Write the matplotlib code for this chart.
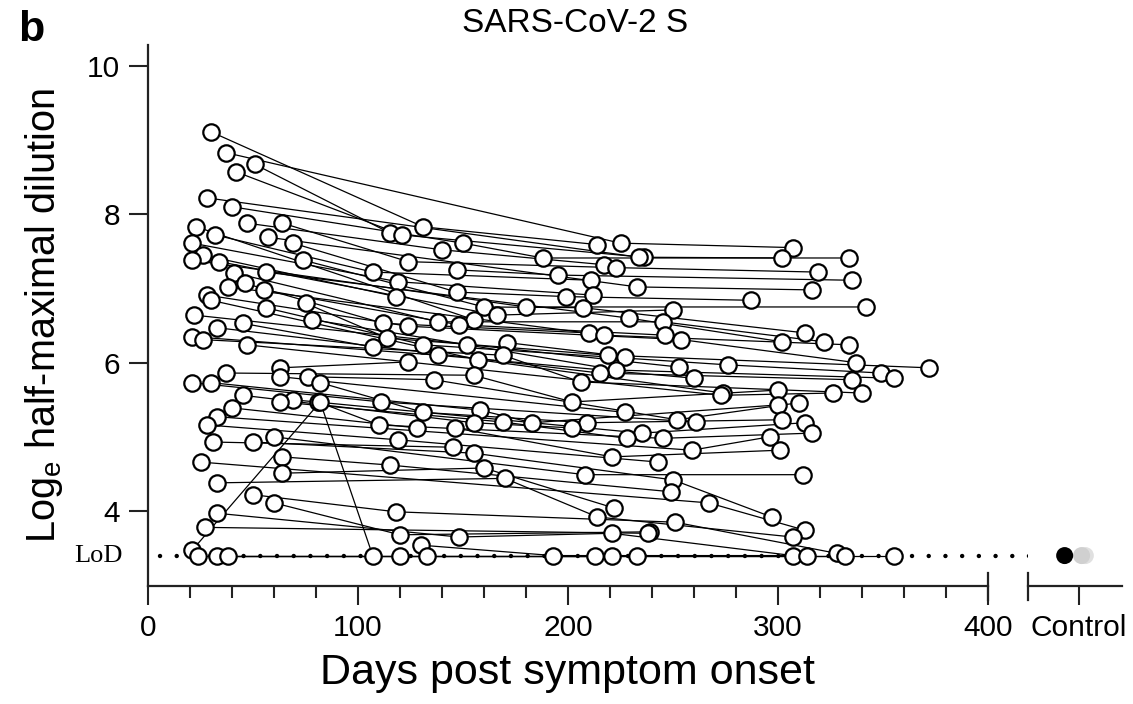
import numpy as np
import matplotlib as mpl
mpl.use('Agg')
import matplotlib.pyplot as plt
import matplotlib.transforms as mtransforms

plt.rcParams['font.family'] = ['Liberation Sans', 'DejaVu Sans']

n = np.nan
LOD = 3.4

# one entry per participant; visit 1..4 (day post symptom onset, log_e titre)
d1 = [30, 37, 51, 42, 28, 40, 47, 64, 23, n, 32, 57, 21, 69, 26, 21, 74, 34, 56, 41,
      46, 38, 55, 28, 30, 75, n, 56, 22, 78, 45, 33, 21, 26, 47, 63, 37, 63, 76, 21,
      30, 82, 45, 69, 63, 81, 40, 33, n, 28, 60, 31, 50, 64, 25, 64, 33, 50, 60, 33,
      27, n, 21, 24, 33, 38]
y1 = [9.11, 8.83, 8.67, 8.57, 8.22, 8.10, 7.88, 7.88, 7.83, n, 7.72, 7.69, 7.61, 7.61, 7.45, 7.38, 7.38, 7.36, 7.22, 7.21,
      7.07, 7.02, 6.98, 6.91, 6.84, 6.80, n, 6.74, 6.64, 6.58, 6.53, 6.47, 6.35, 6.31, 6.24, 5.93, 5.86, 5.81, 5.81, 5.73,
      5.73, 5.73, 5.56, 5.50, 5.47, 5.47, 5.39, 5.27, n, 5.16, 5.00, 4.93, 4.93, 4.73, 4.66, 4.51, 4.38, 4.22, 4.11, 3.97,
      3.78, n, 3.47, 3.40, 3.40, 3.40]
d2 = [131, n, 115, 121, n, 150, 140, 124, 155, 147, 107, n, 119, 147, 118, n, 160, 166, n, 138,
      112, n, 148, 124, 157, 114, 171, 131, n, 152, 107, n, 138, 169, n, 124, 155, n, 136, 111,
      158, 131, 155, n, 169, 110, 128, n, 146, 119, n, 145, 155, 115, n, 160, 170, 118, 120, 148,
      n, 130, 82, n, 120, 133]
y2 = [7.83, n, 7.75, 7.72, n, 7.61, 7.52, 7.36, 6.58, 7.25, 7.22, n, 7.09, 6.95, 6.89, n, 6.75, 6.64, n, 6.55,
      6.53, n, 6.51, 6.49, 6.04, 6.33, 6.27, 6.24, n, 6.24, 6.21, n, 6.10, 6.10, n, 6.01, 5.83, n, 5.77, 5.47,
      5.36, 5.33, 5.19, n, 5.20, 5.16, 5.12, n, 5.12, 4.96, n, 4.86, 4.78, 4.62, n, 4.58, 4.44, 3.99, 3.68, 3.65,
      n, 3.54, 5.47, n, 3.40, 3.40]
d3 = [214, 225, n, 236, 234, 188, 217, 223, n, 195, 211, 233, 212, 199, n, 180, 207, 250, 229, 245,
      210, 217, 246, 254, 274, 219, 227, 276, 253, 223, n, 215, 260, 206, 273, n, 202, 227, 252, 261,
      183, 209, 202, 235, 228, 245, n, 259, 221, 243, 208, n, 250, 249, 267, 222, 214, 251, 239, 221,
      238, 193, 107, 213, 221, 233]
y3 = [7.59, 7.61, n, 7.42, 7.42, 7.41, 7.32, 7.28, n, 7.18, 7.11, 7.02, 6.91, 6.89, n, 6.75, 6.74, 6.71, 6.60, 6.55,
      6.40, 6.37, 6.37, 6.31, 5.59, 6.10, 6.08, 5.97, 5.94, 5.90, n, 5.86, 5.79, 5.74, 5.56, n, 5.47, 5.33, 5.23, 5.20,
      5.19, 5.19, 5.12, 5.05, 4.98, 4.98, n, 4.82, 4.73, 4.66, 4.49, n, 4.42, 4.26, 4.11, 4.04, 3.92, 3.85, 3.72, 3.70,
      3.70, 3.40, 3.40, 3.40, 3.40, 3.40]
d4 = [n, 307, n, 302, n, 334, n, 319, n, 335, n, 316, n, 287, n, 342, 313, n, 302, 322,
      n, 334, n, 337, n, 372, n, 349, n, 355, n, 335, n, 340, 326, n, 300, n, 310, n,
      300, 302, n, 313, n, 316, n, 296, 301, n, 312, n, 297, n, 313, n, 307, 328, n, 307,
      n, 314, n, 332, n, 355]
y4 = [n, 7.55, n, 7.41, n, 7.41, n, 7.22, n, 7.11, n, 6.98, n, 6.84, n, 6.75, 6.40, n, 6.28, 6.28,
      n, 6.24, n, 6.00, n, 5.93, n, 5.86, n, 5.79, n, 5.77, n, 5.59, 5.59, n, 5.63, n, 5.46, n,
      5.43, 5.23, n, 5.19, n, 5.05, n, 5.00, 4.82, n, 4.49, n, 3.92, n, 3.74, n, 3.65, 3.43, n, 3.40,
      n, 3.40, n, 3.40, n, 3.40]

# controls, all at the limit of detection
ctrl_pos = [-0.15, 0.03, 0.07]
ctrl_val = [3.4, 3.4, 3.4]
ctrl_color = ['black', '#d0d0d0', '#e0e0e0']

days = np.array([d1, d2, d3, d4], dtype=float).T
vals = np.array([y1, y2, y3, y4], dtype=float).T

W, H = 1133, 704
fig = plt.figure(figsize=(W / 100, H / 100), dpi=100)
ax = fig.add_axes([148 / W, 1 - 586 / H, 840 / W, 541 / H])
ax2 = fig.add_axes([1028 / W, 1 - 586 / H, 94 / W, 541 / H])

axis_col = '#222222'

for xs, ys in zip(days, vals):
    ok = ~np.isnan(xs)
    ax.plot(xs[ok], ys[ok], color='black', lw=0.9, zorder=2)
for xs, ys in zip(days, vals):
    ok = ~np.isnan(xs)
    ax.plot(xs[ok], ys[ok], 'o', ms=11.8, mfc='white', mec='black', mew=1.6,
            zorder=3, clip_on=False)

# limit of detection
ax.axhline(LOD, xmin=0.014, xmax=(1122 - 148) / 840, color='black', lw=3.2,
           ls=(0, (0.01, 3.75)), dash_capstyle='round', zorder=1, clip_on=False)

ax.set_xlim(0, 400)
ax.set_ylim(2.99, 10.28)
ax.set_xticks([0, 100, 200, 300, 400])
ax.set_xticks(np.arange(0, 401, 20), minor=True)
ax.set_yticks([4, 6, 8, 10])
ax.tick_params(axis='both', which='major', labelsize=21.5, length=14, width=1.5,
               color=axis_col, pad=6)
ax.tick_params(axis='x', which='minor', length=8.5, width=1.5, color=axis_col)
ax.tick_params(axis='y', which='minor', left=False)
for s in ['top', 'right']:
    ax.spines[s].set_visible(False)
for s in ['left', 'bottom']:
    ax.spines[s].set_linewidth(1.6)
    ax.spines[s].set_color(axis_col)

blend = mtransforms.blended_transform_factory(ax.transData, ax.transAxes)
ax.plot([400, 400], [-0.026, 0.024], transform=blend, color=axis_col, lw=1.6, clip_on=False)
ax.text(-0.03, LOD, 'LoD', transform=mtransforms.blended_transform_factory(ax.transAxes, ax.transData),
        ha='right', va='center', fontsize=19, family='Liberation Serif')

ax.set_xlabel('Days post symptom onset', fontsize=31, labelpad=8)
ax.set_ylabel('Log$_\\mathregular{e}$ half-maximal dilution', fontsize=28.5, labelpad=16)

# control panel
ax2.set_xlim(-0.54, 0.46)
ax2.set_ylim(2.99, 10.28)
ax2.scatter(ctrl_pos[::-1], ctrl_val[::-1], s=150, c=ctrl_color[::-1], edgecolors='none', zorder=3)
ax2.set_xticks([0])
ax2.set_xticklabels(['Control'])
ax2.set_yticks([])
ax2.tick_params(axis='x', labelsize=21.5, length=14, width=1.5, color=axis_col, pad=6)
for s in ['top', 'right', 'left']:
    ax2.spines[s].set_visible(False)
ax2.spines['bottom'].set_linewidth(1.6)
ax2.spines['bottom'].set_color(axis_col)
blend2 = mtransforms.blended_transform_factory(ax2.transAxes, ax2.transAxes)
ax2.plot([0, 0], [-0.026, 0.024], transform=blend2, color=axis_col, lw=1.6, clip_on=False)

fig.text(575 / W, 1 - 23 / H, 'SARS-CoV-2 S', ha='center', va='center', fontsize=24)
fig.text(18 / W, 1 - 30 / H, 'b', ha='left', va='center', fontsize=31, fontweight='bold')

fig.savefig('out.png', dpi=100)
